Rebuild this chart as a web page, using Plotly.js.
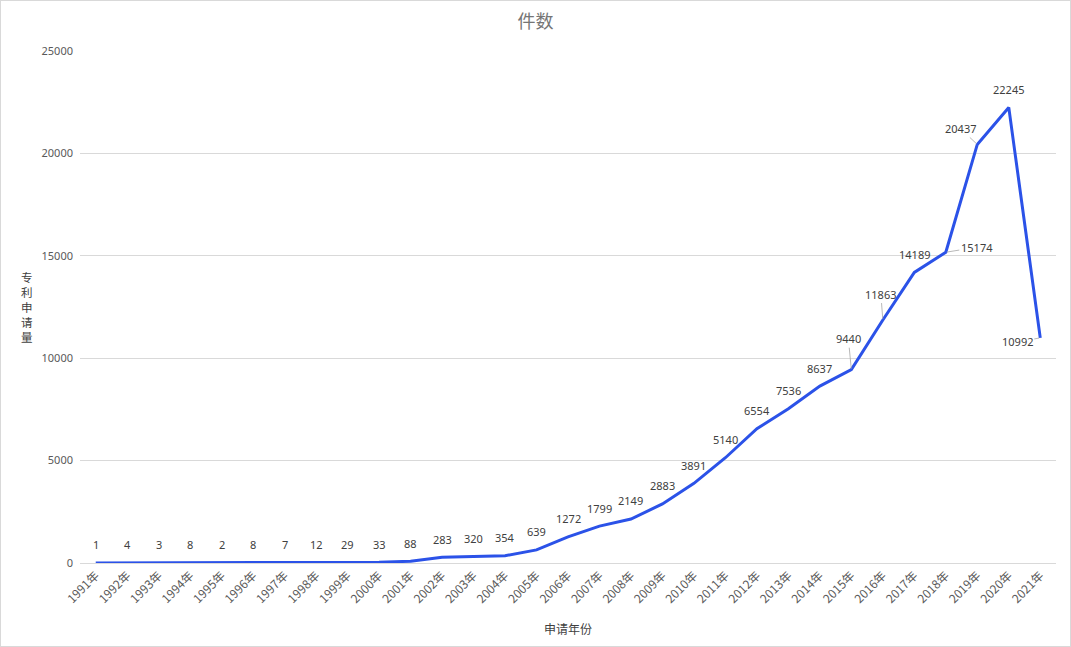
<!DOCTYPE html>
<html>
<head>
<meta charset="utf-8">
<script src="https://cdn.plot.ly/plotly-3.0.1.min.js"></script>
<style>
  html, body { margin: 0; padding: 0; background: #fff; }
  #chart { width: 1071px; height: 647px; box-sizing: border-box; border: 1px solid #d9d9d9; }
</style>
</head>
<body>
<div id="chart"></div>
<script>
const years = ['1991年', '1992年', '1993年', '1994年', '1995年', '1996年', '1997年', '1998年',
    '1999年', '2000年', '2001年', '2002年', '2003年', '2004年', '2005年', '2006年', '2007年',
    '2008年', '2009年', '2010年', '2011年', '2012年', '2013年', '2014年', '2015年', '2016年',
    '2017年', '2018年', '2019年', '2020年', '2021年']
const counts = [1, 4, 3, 8, 2, 8, 7, 12, 29, 33, 88, 283, 320, 354, 639, 1272, 1799, 2149,
    2883, 3891, 5140, 6554, 7536, 8637, 9440, 11863, 14189, 15174, 20437, 22245, 10992]
const y_ticks = [0, 5000, 10000, 15000, 20000, 25000]

// labels that sit off the point with a leader line (pixel offsets)
const callouts = {
    '2015年': [-3, -31],
    '2016年': [-2, -26],
    '2018年': [31, -5],
    '2019年': [-17, -16],
    '2021年': [-23, 4],
}

const label_font = {family: 'Noto Sans, Noto Sans CJK SC, sans-serif', size: 11, color: '#404040'}

var annotations = []
for (var i = 0; i < years.length; i++) {
    var c = callouts[years[i]]
    if (c) {
        annotations.push({
            x: years[i], y: counts[i], text: String(counts[i]),
            showarrow: true, arrowhead: 0, arrowwidth: 0.8, arrowcolor: '#a6a6a6',
            ax: c[0], ay: c[1], standoff: 1, font: label_font,
        })
    } else {
        annotations.push({
            x: years[i], y: counts[i], text: String(counts[i]),
            showarrow: false, yshift: 18, font: label_font,
        })
    }
}

annotations.push({
    xref: 'paper', yref: 'paper', x: -0.054, y: 0.50,
    xanchor: 'center', yanchor: 'middle',
    text: '专<br>利<br>申<br>请<br>量', showarrow: false,
    font: {family: 'Noto Sans CJK SC, sans-serif', size: 11.5, color: '#404040'},
})

Plotly.newPlot('chart', [{
    type: 'scatter',
    mode: 'lines',
    x: years,
    y: counts,
    line: {color: '#2b52e8', width: 3},
    hoverinfo: 'x+y',
}], {
    width: 1069,
    height: 645,
    title: {
        text: '件数',
        x: 0.5, xanchor: 'center',
        y: 0.968, yanchor: 'middle',
        font: {family: 'Noto Sans CJK SC, sans-serif', size: 18, color: '#757575'},
    },
    showlegend: false,
    paper_bgcolor: '#fff',
    plot_bgcolor: '#fff',
    margin: {t: 50, r: 14, b: 83, l: 79},
    xaxis: {
        type: 'category',
        range: [-0.5, years.length - 0.5],
        tickangle: -45,
        tickfont: {family: 'Noto Sans CJK SC, sans-serif', size: 12, color: '#595959'},
        showgrid: false,
        showline: true,
        linecolor: '#d9d9d9',
        ticks: '',
        zeroline: false,
        title: {
            text: '申请年份',
            standoff: 20,
            font: {family: 'Noto Sans CJK SC, sans-serif', size: 12, color: '#404040'},
        },
    },
    yaxis: {
        range: [0, 25000],
        tickvals: y_ticks,
        ticktext: y_ticks.map(String),
        tickfont: {family: 'Noto Sans, sans-serif', size: 11, color: '#595959'},
        gridcolor: '#d9d9d9',
        showline: false,
        zeroline: false,
        ticks: '',
        ticklabelstandoff: 6,
    },
    annotations: annotations,
}, {displayModeBar: false})
</script>
</body>
</html>
